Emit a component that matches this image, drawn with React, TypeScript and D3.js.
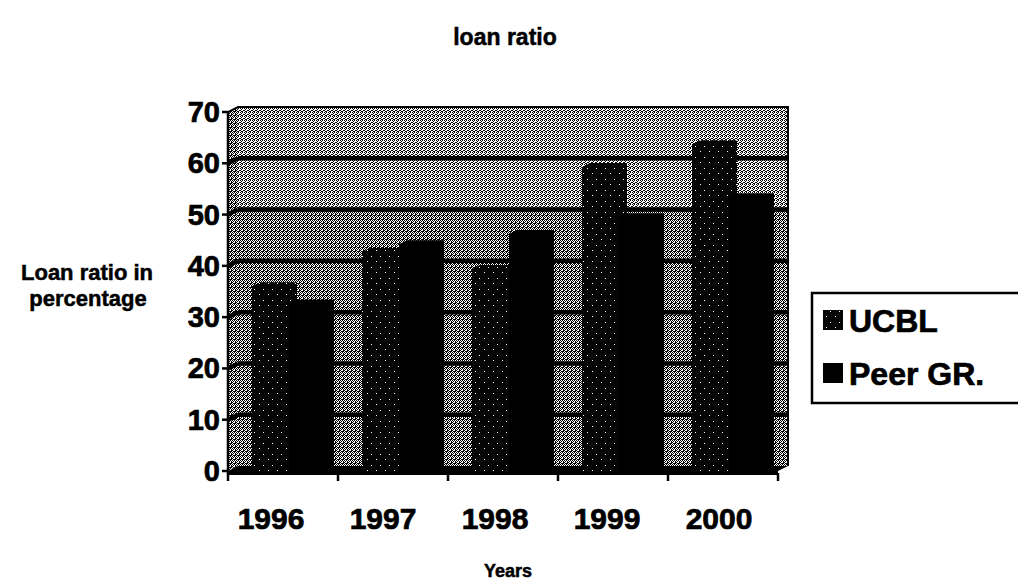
import { useEffect, useRef } from 'react';
import * as d3 from 'd3';

// chart values
const years = ['1996', '1997', '1998', '1999', '2000'];
const ucbl = [36, 42.7, 39.4, 59.3, 63.7];
const peer = [32.6, 44.2, 46.2, 49.5, 53.4];
const seriesNames = ['UCBL', 'Peer GR.'];
const yTicks = [0, 10, 20, 30, 40, 50, 60, 70];

const FONT = '"Liberation Sans", Arial, sans-serif';

export default function App() {
    const ref = useRef<SVGSVGElement>(null);

    useEffect(() => {
        const svg = d3.select(ref.current);
        svg.selectAll('*').remove();

        // 3D depth offset of the back wall
        const dx = 10, dy = 5;
        const left = 228, right = 778;

        const x = d3.scaleBand().domain(years).range([left, right]);
        const y = d3.scaleLinear().domain([0, 70]).range([471, 112]);

        const defs = svg.append('defs');
        // halftone look of the scanned wall
        const pat = defs.append('pattern')
            .attr('id', 'halftone')
            .attr('patternUnits', 'userSpaceOnUse')
            .attr('width', 4).attr('height', 4);
        pat.append('rect').attr('width', 4).attr('height', 4).attr('fill', '#ffffff');
        [[0, 0], [2, 0], [1, 1], [3, 1], [0, 2], [3, 2], [1, 3], [2, 3], [3, 3]].forEach(([px, py]) => {
            pat.append('rect').attr('x', px).attr('y', py).attr('width', 1).attr('height', 1).attr('fill', '#000');
        });
        const patL = defs.append('pattern')
            .attr('id', 'halftoneLight')
            .attr('patternUnits', 'userSpaceOnUse')
            .attr('width', 4).attr('height', 4);
        patL.append('rect').attr('width', 4).attr('height', 4).attr('fill', '#ffffff');
        [[0, 0], [2, 0], [1, 1], [0, 2], [3, 2], [1, 3], [2, 3]].forEach(([px, py]) => {
            patL.append('rect').attr('x', px).attr('y', py).attr('width', 1).attr('height', 1).attr('fill', '#000');
        });
        // UCBL bars: black with sparse white specks
        const dots = defs.append('pattern')
            .attr('id', 'specks')
            .attr('patternUnits', 'userSpaceOnUse')
            .attr('width', 9).attr('height', 11);
        dots.append('rect').attr('width', 9).attr('height', 11).attr('fill', '#050505');
        [[2, 3], [7, 8]].forEach(([px, py]) => {
            dots.append('rect').attr('x', px).attr('y', py).attr('width', 1).attr('height', 1).attr('fill', '#fff');
        });

        const top = y(70), bottom = y(0);

        // back wall
        svg.append('rect')
            .attr('x', left + dx).attr('y', top - dy)
            .attr('width', right - left).attr('height', bottom - top)
            .attr('fill', 'url(#halftone)');
        svg.append('rect')
            .attr('x', left + dx).attr('y', top - dy)
            .attr('width', right - left).attr('height', y(50) - top)
            .attr('fill', 'url(#halftoneLight)');
        // side wall
        svg.append('polygon')
            .attr('points', [[left, top], [left + dx, top - dy], [left + dx, bottom - dy], [left, bottom]].join(' '))
            .attr('fill', 'url(#halftone)');

        // gridlines on walls
        yTicks.filter(t => t > 0 && t < 70).forEach(t => {
            svg.append('line')
                .attr('x1', left + dx).attr('x2', right + dx)
                .attr('y1', y(t) - dy).attr('y2', y(t) - dy)
                .attr('stroke', '#000').attr('stroke-width', 4.5);
            svg.append('line')
                .attr('x1', left).attr('x2', left + dx)
                .attr('y1', y(t)).attr('y2', y(t) - dy)
                .attr('stroke', '#000').attr('stroke-width', 4.5);
        });
        // wall outline
        svg.append('polyline')
            .attr('points', [[left, bottom], [left, top], [left + dx, top - dy], [right + dx, top - dy], [right + dx, bottom - dy]].join(' '))
            .attr('fill', 'none').attr('stroke', '#000').attr('stroke-width', 2);

        // floor
        svg.append('polygon')
            .attr('points', [[left, bottom], [left + dx, bottom - dy], [right + dx, bottom - dy], [right, bottom], [right, bottom + 4], [left, bottom + 4]].join(' '))
            .attr('fill', '#000');

        // bars
        const bw = 37, bdx = 8, bdy = 4;
        const drawBar = (x0: number, v: number, fill: string) => {
            const yt = y(v), yb = y(0) + 1;
            svg.append('polygon')
                .attr('points', [[x0, yb], [x0, yt], [x0 + bdx, yt - bdy], [x0 + bw + bdx, yt - bdy], [x0 + bw + bdx, yb - bdy], [x0 + bw, yb]].join(' '))
                .attr('fill', fill);
        };
        years.forEach((yr, i) => {
            const bx = x(yr)!;
            drawBar(bx + 24, ucbl[i], 'url(#specks)');
            drawBar(bx + 24 + bw, peer[i], '#000');
        });

        // heavy scanned-looking text
        const txt = (sel: d3.Selection<SVGTextElement, unknown, null, undefined>, size: number, sw = 0.7) =>
            sel.attr('font-family', FONT).attr('font-weight', 'bold').attr('font-size', size)
                .attr('stroke', '#000').attr('stroke-width', sw).attr('fill', '#000');

        // y axis
        svg.append('line')
            .attr('x1', left).attr('x2', left).attr('y1', top).attr('y2', bottom + 3)
            .attr('stroke', '#000').attr('stroke-width', 2.5);
        const yAxis = svg.append('g');
        yTicks.forEach(t => {
            yAxis.append('line')
                .attr('x1', left - 6).attr('x2', left).attr('y1', y(t)).attr('y2', y(t))
                .attr('stroke', '#000').attr('stroke-width', 2.5);
            txt(yAxis.append('text')
                .attr('x', left - 8).attr('y', y(t) + 10)
                .attr('text-anchor', 'end'), 29)
                .text(t);
        });

        // x axis ticks and labels
        [...years.map(yr => x(yr)!), right].forEach(px => {
            svg.append('line')
                .attr('x1', px).attr('x2', px).attr('y1', bottom + 2).attr('y2', bottom + 10)
                .attr('stroke', '#000').attr('stroke-width', 2.5);
        });
        years.forEach((yr, i) => {
            txt(svg.append('text')
                .attr('x', x(yr)! + x.bandwidth() / 2 - 12 + i * 2)
                .attr('y', 529)
                .attr('text-anchor', 'middle'), 30)
                .text(yr);
        });

        // titles
        txt(svg.append('text')
            .attr('x', 505).attr('y', 45)
            .attr('text-anchor', 'middle'), 23, 0.5)
            .text('loan ratio');
        txt(svg.append('text')
            .attr('x', 508).attr('y', 577)
            .attr('text-anchor', 'middle'), 18, 0.5)
            .text('Years');
        const yTitle = txt(svg.append('text')
            .attr('text-anchor', 'middle'), 22, 0.5);
        yTitle.append('tspan').attr('x', 87).attr('y', 280).text('Loan ratio in');
        yTitle.append('tspan').attr('x', 88).attr('y', 306).text('percentage');

        // legend
        const lg = svg.append('g');
        lg.append('rect')
            .attr('x', 812).attr('y', 293).attr('width', 215).attr('height', 110)
            .attr('fill', '#fff').attr('stroke', '#000').attr('stroke-width', 2.5);
        seriesNames.forEach((name, i) => {
            const cy = 320 + i * 53;
            lg.append('rect')
                .attr('x', 823).attr('y', cy - 10).attr('width', 20).attr('height', 20)
                .attr('fill', i === 0 ? 'url(#specks)' : '#000');
            txt(lg.append('text')
                .attr('x', 849).attr('y', cy + 12), 32)
                .text(name);
        });
    }, []);

    return (
        <svg ref={ref} width={1018} height={582}
            style={{ position: 'absolute', left: 0, top: 0, background: '#fff' }} />
    );
}
